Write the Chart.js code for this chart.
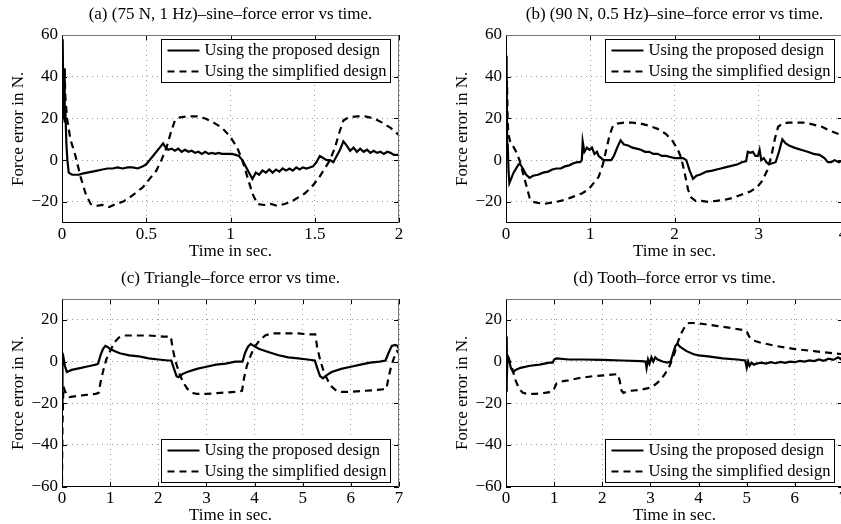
<!DOCTYPE html>
<html><head><meta charset="utf-8">
<script src="https://cdn.jsdelivr.net/npm/chart.js@4/dist/chart.umd.min.js"></script>
<style>
html,body{margin:0;padding:0;background:#fff;overflow:hidden;width:841px;height:524px;position:relative}
canvas{position:absolute}
</style></head><body>
<canvas id="ca" width="420" height="262" style="left:0;top:0"></canvas>
<canvas id="cb" width="420" height="262" style="left:444px;top:0"></canvas>
<canvas id="cc" width="420" height="262" style="left:0;top:264px"></canvas>
<canvas id="cd" width="420" height="262" style="left:444px;top:264px"></canvas>
<script>
// ---------- text ----------
const titleA = '(a) (75 N, 1 Hz)\u2013sine\u2013force error vs time.';
const titleB = '(b) (90 N, 0.5 Hz)\u2013sine\u2013force error vs time.';
const titleC = '(c) Triangle\u2013force error vs time.';
const titleD = '(d) Tooth\u2013force error vs time.';
const legendLabels = ['Using the proposed design', 'Using the simplified design'];
const xLabel = 'Time in sec.';
const yLabel = 'Force error in N.';

// ---------- ticks / ranges ----------
const xTicksA = [0, 0.5, 1, 1.5, 2];
const xTicksB = [0, 1, 2, 3, 4];
const xTicksCD = [0, 1, 2, 3, 4, 5, 6, 7];
const yTicksTop = [-20, 0, 20, 40, 60];
const yRangeTop = [-30, 60];
const yTicksBottom = [-60, -40, -20, 0, 20];
const yRangeBottom = [-60, 30];

// ---------- series (time, force error) ----------
const aProposed = [[0,20],[0.004,58],[0.008,28],[0.012,44],[0.016,18],[0.02,24],[0.026,8],[0.032,0],[0.04,-6],[0.06,-7],[0.08,-7],[0.1,-7],[0.12,-6.5],[0.15,-6],[0.18,-5.5],[0.21,-5],[0.24,-4.5],[0.27,-4],[0.3,-4],[0.33,-3.5],[0.36,-4],[0.39,-3.5],[0.42,-3.5],[0.45,-4],[0.48,-3],[0.5,-2],[0.52,0],[0.54,2],[0.56,4],[0.58,6],[0.6,8],[0.615,6],[0.63,5],[0.65,5.5],[0.67,4.5],[0.69,5.5],[0.71,4],[0.73,5],[0.75,4],[0.77,4.5],[0.79,3.5],[0.81,4],[0.83,3],[0.85,4],[0.87,3],[0.89,3.5],[0.91,3],[0.93,3.5],[0.95,3],[0.97,3],[0.99,3],[1.01,3],[1.03,2.5],[1.05,2],[1.07,0],[1.09,-3],[1.11,-6],[1.13,-9],[1.15,-6],[1.17,-7],[1.19,-5],[1.21,-6],[1.23,-4.5],[1.25,-6],[1.27,-4.5],[1.29,-5.5],[1.31,-4],[1.33,-5],[1.35,-4],[1.37,-5],[1.39,-3.5],[1.41,-4.5],[1.43,-3.5],[1.45,-4],[1.47,-3.5],[1.49,-3],[1.51,-1],[1.53,2],[1.55,1],[1.57,0],[1.59,0],[1.61,-1],[1.63,2],[1.65,5],[1.67,9],[1.69,7],[1.71,4.5],[1.73,6],[1.75,4],[1.77,5.5],[1.79,4],[1.81,5],[1.83,3.5],[1.85,4.5],[1.87,3.5],[1.89,4],[1.91,3],[1.93,4],[1.95,3.5],[1.97,2.5],[2.0,2.5]];
const aSimplified = [[0,30],[0.005,45],[0.01,38],[0.015,44],[0.02,30],[0.03,20],[0.05,10],[0.08,2],[0.11,-8],[0.14,-16],[0.17,-21],[0.2,-22],[0.24,-21.5],[0.28,-22.5],[0.32,-21],[0.36,-20],[0.4,-18],[0.44,-15.5],[0.48,-13],[0.52,-9],[0.56,-5],[0.59,0],[0.62,6],[0.645,13],[0.67,19],[0.7,20.5],[0.75,21],[0.8,21],[0.85,20],[0.9,18],[0.95,15.5],[1.0,11],[1.04,6],[1.07,0],[1.1,-8],[1.13,-16],[1.16,-21],[1.2,-21.5],[1.24,-21],[1.28,-22],[1.32,-21],[1.36,-20],[1.4,-18],[1.44,-16],[1.48,-13],[1.52,-9],[1.56,-4],[1.59,0],[1.62,6],[1.645,13],[1.67,19],[1.7,20.5],[1.75,21],[1.8,21],[1.85,20],[1.9,18],[1.95,15.5],[2.0,12]];

const bProposed = [[0,50],[0.005,20],[0.01,35],[0.015,5],[0.02,8],[0.03,-5],[0.04,-11],[0.06,-9],[0.09,-6],[0.12,-4],[0.15,-2],[0.17,-2],[0.2,-4],[0.24,-7],[0.28,-8.5],[0.32,-7.5],[0.38,-7],[0.44,-6],[0.5,-5.5],[0.55,-4.5],[0.6,-4],[0.65,-4],[0.7,-3],[0.75,-2.5],[0.8,-1.5],[0.85,-1],[0.88,-1],[0.9,0],[0.91,9],[0.93,4],[0.96,6],[0.99,5],[1.02,6],[1.05,3],[1.08,4],[1.1,2],[1.13,1],[1.16,0],[1.2,0],[1.25,0],[1.28,2],[1.32,6],[1.36,9.5],[1.4,7.5],[1.45,7],[1.5,6],[1.55,5.5],[1.6,5],[1.65,4],[1.7,4],[1.75,3],[1.8,3],[1.85,2],[1.9,2],[1.95,1.5],[2.0,1],[2.05,1],[2.1,1],[2.14,0],[2.18,-5],[2.22,-9],[2.26,-7.5],[2.3,-7],[2.38,-5.5],[2.45,-5],[2.5,-4.5],[2.55,-4],[2.6,-3.5],[2.65,-3],[2.7,-2.5],[2.75,-2],[2.8,-1],[2.85,-0.5],[2.87,4],[2.9,3.5],[2.93,4],[2.96,2],[2.99,2],[3.01,5],[3.03,0],[3.06,1],[3.09,-1],[3.12,-2],[3.16,-1.5],[3.2,-1],[3.24,4],[3.28,10],[3.32,8],[3.36,7],[3.42,6],[3.5,5],[3.58,4],[3.65,3],[3.72,2.5],[3.78,1],[3.82,-1],[3.86,-1],[3.9,0],[3.95,-1],[4.0,0]];
const bSimplified = [[0,42],[0.006,30],[0.012,38],[0.02,18],[0.03,12],[0.05,9],[0.08,7],[0.12,4],[0.16,0],[0.2,-6],[0.24,-12],[0.28,-18],[0.32,-20],[0.38,-20.5],[0.45,-21],[0.52,-20.5],[0.6,-20],[0.7,-19],[0.8,-17.5],[0.9,-16],[0.98,-14],[1.04,-11],[1.1,-8],[1.15,-2],[1.19,5],[1.23,12],[1.27,16.5],[1.32,17.5],[1.4,18],[1.5,18],[1.6,17.5],[1.7,16.5],[1.8,15],[1.9,12.5],[1.98,9],[2.04,5],[2.08,1],[2.12,-6],[2.16,-14],[2.2,-18],[2.25,-19.5],[2.32,-19.5],[2.4,-20],[2.5,-19.5],[2.6,-19],[2.7,-18],[2.8,-16.5],[2.9,-15],[2.98,-13],[3.04,-10],[3.1,-5],[3.15,2],[3.19,10],[3.23,16],[3.28,17.5],[3.35,18],[3.45,18],[3.55,18],[3.65,17],[3.75,16],[3.85,14],[3.95,12.5],[4.0,11]];

const cProposed = [[0,-20],[0.01,0],[0.03,2],[0.06,-2],[0.1,-5],[0.15,-4.5],[0.2,-4],[0.3,-3.5],[0.4,-3],[0.5,-2.5],[0.6,-2],[0.7,-1.5],[0.75,-1],[0.8,3],[0.85,6],[0.9,7.5],[0.95,7],[1.0,6],[1.1,5],[1.2,4],[1.4,3],[1.6,2.5],[1.8,1.5],[2.0,1],[2.2,0.5],[2.27,0.5],[2.32,-3],[2.38,-7],[2.42,-7.5],[2.5,-6],[2.6,-5],[2.8,-3.5],[3.0,-2.5],[3.2,-1.5],[3.4,-1],[3.6,0],[3.75,0],[3.8,4],[3.86,7],[3.92,8.5],[3.98,7.5],[4.1,6],[4.3,4.5],[4.5,3],[4.7,2],[4.9,1.5],[5.1,1],[5.25,0.5],[5.3,-3],[5.36,-7],[5.42,-8],[5.5,-6.5],[5.6,-5],[5.8,-3.5],[6.0,-2.5],[6.2,-1.5],[6.4,-0.5],[6.6,0],[6.72,0.5],[6.78,4],[6.85,7.5],[6.92,8],[6.97,7.5],[7.0,6]];
const cSimplified = [[0,-58],[0.01,-30],[0.03,-12],[0.06,-14],[0.1,-16],[0.15,-17],[0.3,-16.5],[0.5,-16],[0.7,-15.5],[0.76,-15],[0.8,-10],[0.86,-4],[0.92,1],[1.0,5],[1.08,9],[1.18,11.5],[1.3,12.5],[1.5,12.5],[1.8,12.5],[2.1,12],[2.26,12],[2.3,6],[2.36,0],[2.44,-6],[2.52,-10],[2.6,-13],[2.7,-15],[2.8,-15.5],[3.0,-15.5],[3.3,-15],[3.6,-14.5],[3.74,-14],[3.78,-8],[3.84,-2],[3.92,3],[4.0,7],[4.1,10],[4.22,12.5],[4.35,13.5],[4.6,13.5],[4.9,13.5],[5.15,13],[5.26,13],[5.3,7],[5.36,1],[5.44,-5],[5.52,-9],[5.6,-12],[5.7,-14],[5.8,-14.5],[6.0,-14.5],[6.3,-14],[6.6,-13.5],[6.74,-13],[6.78,-8],[6.84,-2],[6.9,2],[6.96,5],[7.0,4]];

const dProposed = [[0,-14],[0.01,12],[0.02,-10],[0.03,3],[0.06,1],[0.1,-3],[0.15,-5],[0.2,-4],[0.3,-3],[0.5,-2],[0.7,-1.5],[0.9,-0.5],[0.97,-0.5],[1.0,1],[1.05,1.5],[1.3,1],[1.6,1],[2.0,0.8],[2.4,0.5],[2.8,0.2],[2.9,0],[2.92,-3],[2.95,1],[2.98,-1],[3.02,2],[3.06,0],[3.1,2],[3.15,1],[3.25,0],[3.35,-0.5],[3.42,0],[3.47,4],[3.52,7.5],[3.56,8.5],[3.62,7],[3.75,5],[3.9,3.5],[4.0,3],[4.2,2.5],[4.5,1.5],[4.8,1],[4.97,0.5],[5.0,-3],[5.03,0],[5.06,-2],[5.1,-0.5],[5.15,-1.5],[5.2,-1],[5.3,-0.5],[5.4,-1],[5.5,-0.3],[5.6,-0.8],[5.7,-0.2],[5.8,-0.6],[5.9,0],[6.0,-0.3],[6.1,0.3],[6.2,0],[6.3,0.6],[6.4,0.2],[6.5,1],[6.6,0.4],[6.7,1.4],[6.8,0.8],[6.9,2],[6.95,1.2],[7.0,2.5]];
const dSimplified = [[0,8],[0.02,4],[0.05,2],[0.1,-1],[0.15,-5],[0.2,-9],[0.27,-13],[0.35,-15],[0.45,-15.5],[0.6,-15.5],[0.8,-15],[0.95,-14.5],[1.0,-13],[1.05,-10.5],[1.15,-9.5],[1.3,-9],[1.5,-8],[1.8,-7],[2.1,-6.5],[2.32,-6],[2.36,-9],[2.4,-14],[2.44,-15],[2.5,-14.5],[2.6,-14],[2.8,-13.5],[3.0,-12.5],[3.1,-11],[3.2,-9],[3.3,-6],[3.4,-2],[3.5,4],[3.58,10],[3.65,14],[3.72,17],[3.8,18.5],[3.9,18.5],[4.1,18],[4.4,17],[4.7,16],[4.95,15],[5.0,14.5],[5.05,12],[5.15,10],[5.3,9],[5.6,7.5],[6.0,6],[6.4,5],[6.8,4],[7.0,3.5]];

// ---------- drawing ----------
const FONT = "'Liberation Serif', 'Times New Roman', serif";

const framePlugin = {
  id: 'frame',
  afterDraw(chart, args, opts) {
    const {ctx, chartArea: ca, scales: {x, y}} = chart;
    ctx.save();
    ctx.setLineDash([]);
    ctx.lineWidth = 1;
    const tl = 5;
    ctx.strokeStyle = '#000';
    ctx.beginPath();
    x.ticks.forEach(t => {
      const px = Math.round(x.getPixelForValue(t.value)) + 0.5;
      ctx.moveTo(px, ca.bottom); ctx.lineTo(px, ca.bottom - tl);
      ctx.moveTo(px, ca.top); ctx.lineTo(px, ca.top + tl);
    });
    y.ticks.forEach(t => {
      const py = Math.round(y.getPixelForValue(t.value)) + 0.5;
      ctx.moveTo(ca.left, py); ctx.lineTo(ca.left + tl, py);
      ctx.moveTo(ca.right, py); ctx.lineTo(ca.right - tl, py);
    });
    ctx.stroke();
    const L = Math.round(ca.left) + 0.5, R = Math.round(ca.right) - 0.5;
    const T = Math.round(ca.top) + 0.5, B = Math.round(ca.bottom) - 0.5;
    ctx.strokeStyle = '#000';
    ctx.beginPath(); ctx.moveTo(L, T); ctx.lineTo(L, B); ctx.lineTo(R, B); ctx.stroke();
    ctx.strokeStyle = '#777';
    ctx.beginPath(); ctx.moveTo(L, T); ctx.lineTo(R, T); ctx.lineTo(R, B); ctx.stroke();
    const w = 229, h = 43;
    const bx = Math.round(ca.right - 9 - w) + 0.5;
    const by = Math.round(opts.legendAt === 'top' ? ca.top + 4 : ca.bottom - 5 - h) + 0.5;
    ctx.fillStyle = '#fff';
    ctx.fillRect(bx, by, w, h);
    ctx.strokeStyle = '#000';
    ctx.strokeRect(bx, by, w, h);
    ctx.font = "16.5px " + FONT;
    ctx.textBaseline = 'middle';
    ctx.textAlign = 'left';
    ctx.fillStyle = '#000';
    chart.data.datasets.forEach((ds, i) => {
      const cy = by + 11 + i * 21;
      ctx.lineWidth = 2.2;
      ctx.setLineDash(ds.borderDash || []);
      ctx.beginPath(); ctx.moveTo(bx + 6, cy); ctx.lineTo(bx + 38, cy); ctx.stroke();
      ctx.setLineDash([]);
      ctx.fillText(ds.label, bx + 43, cy + 0.5);
    });
    ctx.restore();
  }
};

function fmt(v) { return v < 0 ? '\u2212' + Math.abs(v) : String(v); }

function makeChart(id, title, xTicks, yTicks, yRange, prop, simp, legendAt) {
  const tickFont = {family: FONT, size: 17};
  new Chart(document.getElementById(id), {
    type: 'line',
    data: {datasets: [
      {label: legendLabels[0], data: prop.map(p => ({x: p[0], y: p[1]})), borderColor: '#000', borderWidth: 2.2, pointRadius: 0, tension: 0, fill: false},
      {label: legendLabels[1], data: simp.map(p => ({x: p[0], y: p[1]})), borderColor: '#000', borderWidth: 2.2, borderDash: [7, 5], pointRadius: 0, tension: 0, fill: false}
    ]},
    options: {
      responsive: false, animation: false, devicePixelRatio: 1,
      layout: {padding: {left: 0, right: 21, top: 0, bottom: 0}},
      plugins: {
        legend: {display: false}, tooltip: {enabled: false},
        title: {display: true, text: title, fullSize: false, color: '#000',
                font: {family: FONT, size: 17, weight: 'normal'}, padding: {top: 4.8, bottom: 9.8}},
        frame: {legendAt}
      },
      scales: {
        x: {type: 'linear', min: xTicks[0], max: xTicks[xTicks.length - 1],
            afterBuildTicks: s => { s.ticks = xTicks.map(v => ({value: v})); },
            afterFit: s => { s.height = 39.3; },
            ticks: {padding: 2, color: '#000', font: tickFont, maxRotation: 0, autoSkip: false, callback: v => fmt(v)},
            grid: {color: '#9a9a9a', lineWidth: 1, drawTicks: false},
            border: {display: false, dash: [1, 4]},
            title: {display: true, text: xLabel, color: '#000', font: tickFont, padding: {top: 0, bottom: 0}}},
        y: {type: 'linear', min: yRange[0], max: yRange[1],
            afterBuildTicks: s => { s.ticks = yTicks.map(v => ({value: v})); },
            afterFit: s => { s.width = 62; },
            ticks: {padding: 4, color: '#000', font: tickFont, autoSkip: false, callback: v => fmt(v)},
            grid: {color: '#9a9a9a', lineWidth: 1, drawTicks: false},
            border: {display: false, dash: [1, 4]},
            title: {display: true, text: yLabel, color: '#000', font: tickFont, padding: {top: 8, bottom: 0}}}
      }
    },
    plugins: [framePlugin]
  });
}

makeChart('ca', titleA, xTicksA, yTicksTop, yRangeTop, aProposed, aSimplified, 'top');
makeChart('cb', titleB, xTicksB, yTicksTop, yRangeTop, bProposed, bSimplified, 'top');
makeChart('cc', titleC, xTicksCD, yTicksBottom, yRangeBottom, cProposed, cSimplified, 'bottom');
makeChart('cd', titleD, xTicksCD, yTicksBottom, yRangeBottom, dProposed, dSimplified, 'bottom');
</script>
</body></html>
